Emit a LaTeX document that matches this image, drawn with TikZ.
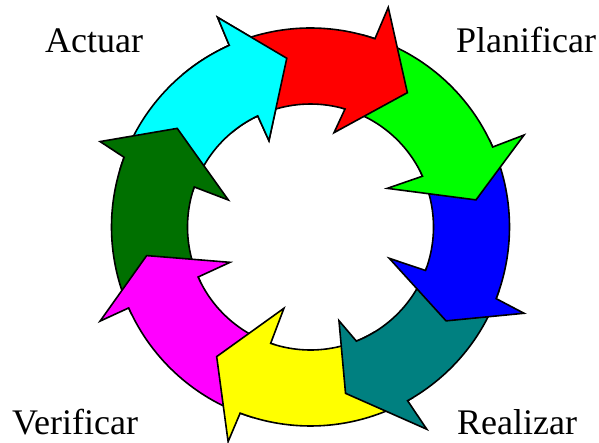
\documentclass[tikz,border=0pt]{standalone}
\usepackage{fontspec}
\setmainfont{Liberation Serif}
\definecolor{cRed}{HTML}{FF0000}
\definecolor{cGreen}{HTML}{00FF00}
\definecolor{cBlue}{HTML}{0000FF}
\definecolor{cTeal}{HTML}{008080}
\definecolor{cYellow}{HTML}{FFFF00}
\definecolor{cMagenta}{HTML}{FF00FF}
\definecolor{cDark}{HTML}{007000}
\definecolor{cCyan}{HTML}{00FFFF}
\begin{document}
\begin{tikzpicture}[
  ringarrow/.style={draw=black, line width=1.6pt, line join=miter},
  label/.style={inner sep=0pt, anchor=base west, font=\fontsize{36pt}{40pt}\selectfont}
]
\useasboundingbox (-310.5pt,-216pt) rectangle (288.5pt,227pt);
% cyan (drawn first)
\filldraw[ringarrow, fill=cCyan] (163:199pt) arc[start angle=163, end angle=114.1, radius=199pt]
  -- (113.9:229.3pt) -- (98.0:170.4pt) -- (115.7:95.8pt) -- (115.4:123pt)
  arc[start angle=115.4, end angle=163, radius=123pt] -- cycle;
% dark green
\filldraw[ringarrow, fill=cDark] (206:199pt) arc[start angle=206, end angle=159.5, radius=199pt]
  -- (157.9:227.1pt) -- (143.5:165.8pt) -- (161.8:86.5pt) -- (161.0:123pt)
  arc[start angle=161.0, end angle=206, radius=123pt] -- cycle;
% magenta
\filldraw[ringarrow, fill=cMagenta] (-107:199pt) arc[start angle=-107, end angle=-156, radius=199pt]
  -- (-155.9:230.5pt) -- (-170.1:166.3pt) -- (-156.3:87.9pt) -- (-156:123pt)
  arc[start angle=-156, end angle=-107, radius=123pt] -- cycle;
% yellow
\filldraw[ringarrow, fill=cYellow] (-59:199pt) arc[start angle=-59, end angle=-110.7, radius=199pt]
  -- (-111:229.9pt) -- (-125.9:160pt) -- (-108.1:85.5pt) -- (-108.9:123pt)
  arc[start angle=-108.9, end angle=-59, radius=123pt] -- cycle;
% teal
\filldraw[ringarrow, fill=cTeal] (-19:199pt) arc[start angle=-19, end angle=-60.8, radius=199pt]
  -- (-60.1:233.3pt) -- (-78.1:170pt) -- (-73.1:97.9pt) -- (-68.1:123pt)
  arc[start angle=-68.1, end angle=-19, radius=123pt] -- cycle;
% blue
\filldraw[ringarrow, fill=cBlue] (26:199pt) arc[start angle=26, end angle=-21.1, radius=199pt]
  -- (-22.0:230.3pt) -- (-34.7:164.9pt) -- (-21.7:84.8pt) -- (-20.7:123pt)
  arc[start angle=-20.7, end angle=26, radius=123pt] -- cycle;
% green
\filldraw[ringarrow, fill=cGreen] (75:199pt) arc[start angle=75, end angle=23.7, radius=199pt]
  -- (23.3:232.5pt) -- (9.3:167.7pt) -- (26.7:86pt) -- (24.4:123pt)
  arc[start angle=24.4, end angle=75, radius=123pt] -- cycle;
% red
\filldraw[ringarrow, fill=cRed] (117:199pt) arc[start angle=117, end angle=71.1, radius=199pt]
  -- (70.5:233pt) -- (54.2:165.6pt) -- (76.0:97.2pt) -- (73.7:123pt)
  arc[start angle=73.7, end angle=117, radius=123pt] -- cycle;
% cyan head again, on top of the red tail
\begin{scope}
  \clip (0pt,0pt) -- (88:265pt) arc[start angle=88, end angle=130, radius=265pt] -- cycle;
  \filldraw[ringarrow, fill=cCyan] (163:199pt) arc[start angle=163, end angle=114.1, radius=199pt]
    -- (113.9:229.3pt) -- (98.0:170.4pt) -- (115.7:95.8pt) -- (115.4:123pt)
    arc[start angle=115.4, end angle=163, radius=123pt] -- cycle;
\end{scope}
% labels
\node[label] (actuar) at (-265.5pt,174pt) {Actuar};
\node[label] (planificar) at (145.5pt,174pt) {Planificar};
\node[label] (verificar) at (-298.5pt,-208pt) {Verificar};
\node[label] (realizar) at (146.5pt,-208pt) {Realizar};
\end{tikzpicture}
\end{document}
